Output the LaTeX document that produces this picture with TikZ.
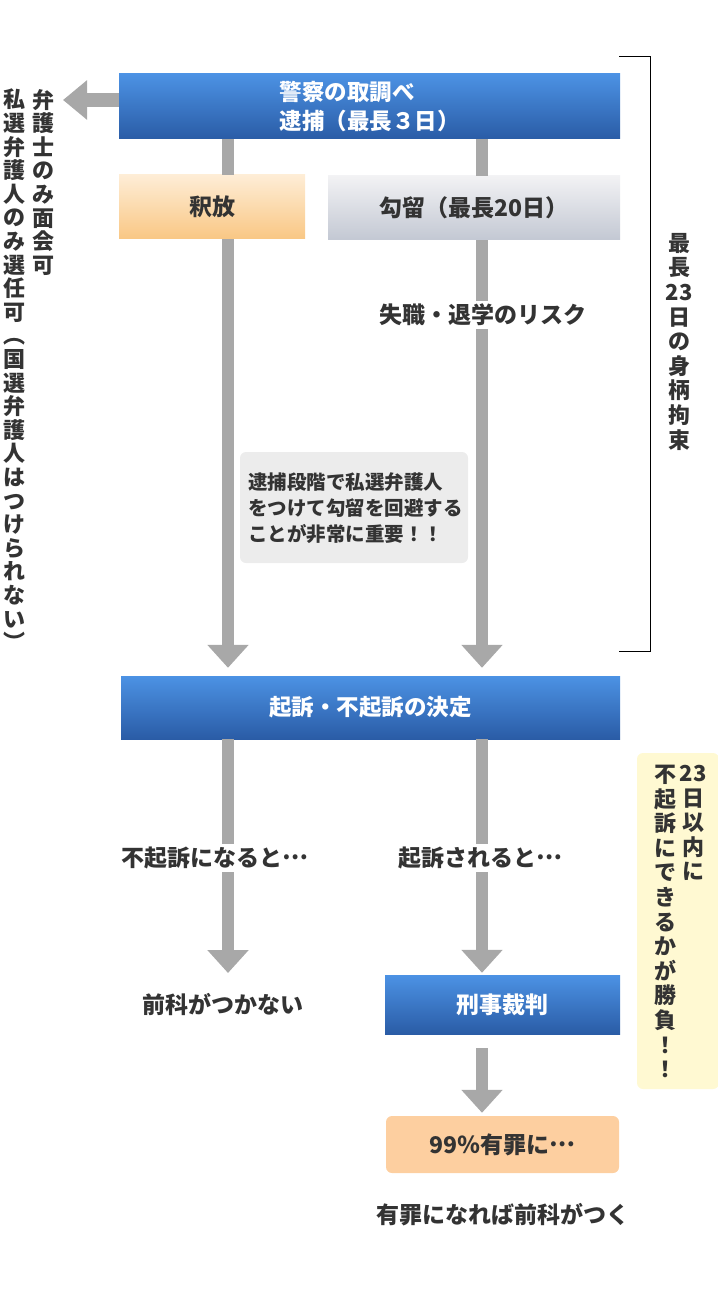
\documentclass[tikz,border=0pt]{standalone}
\usepackage{fontspec}
\setmainfont{Noto Sans CJK JP}
\usetikzlibrary{arrows.meta}
\newcommand\jdots{\raisebox{0.3em}{…}}
\definecolor{txt}{HTML}{333333}
\definecolor{blueT}{HTML}{4C92E4}
\definecolor{blueB}{HTML}{2A5CA6}
\definecolor{orangeT}{HTML}{FEEDD6}
\definecolor{orangeB}{HTML}{F9C784}
\definecolor{grayT}{HTML}{F2F2F4}
\definecolor{grayB}{HTML}{C3C8D3}
\definecolor{arrowgray}{HTML}{A8A8A8}
\definecolor{notegray}{HTML}{ECECEC}
\definecolor{peach}{HTML}{FDCFA0}
\definecolor{paleyellow}{HTML}{FFF9D2}
\tikzset{
  box/.style={inner sep=0pt, draw=none, align=center},
  bluebox/.style={box, top color=blueT, bottom color=blueB, text=white,
    font=\bfseries\fontsize{22.5}{29}\selectfont},
  orangebox/.style={box, top color=orangeT, bottom color=orangeB, text=txt,
    font=\bfseries\fontsize{23}{26}\selectfont},
  graybox/.style={box, top color=grayT, bottom color=grayB, text=txt,
    font=\bfseries\fontsize{23}{26}\selectfont},
  label/.style={inner sep=3pt, text=txt, font=\bfseries\fontsize{23}{26}\selectfont},
  cutlabel/.style={label, fill=white},
  vtext/.style={inner sep=0pt, align=center, text=txt,
    font=\bfseries\fontsize{22}{23.6}\selectfont},
  vtextwide/.style={vtext, font=\bfseries\fontsize{22}{24.6}\selectfont},
  gline/.style={draw=arrowgray, line width=12pt},
  garrow/.style={gline, -{Triangle[width=40pt,length=23pt]}},
}
\begin{document}
\begin{tikzpicture}[x=1pt,y=-1pt]
\useasboundingbox (0,0) rectangle (717,1313);

% boxes
\node[bluebox, minimum width=501pt, minimum height=65pt, align=left] (police) at (369.5,106.5) {警察の取調べ\\逮捕（最長３日）};
\node[orangebox, minimum width=186pt, minimum height=64pt] (shaku) at (212,207) {釈放};
\node[graybox, minimum width=292pt, minimum height=64pt] (koryu) at (474,208) {勾留（最長20日）};
\node[box, fill=notegray, rounded corners=6pt, minimum width=228pt, minimum height=111pt] (note) at (354,507.5) {};
\node[inner sep=0pt, anchor=west, align=left, text=txt, font=\bfseries\fontsize{19.5}{26}\selectfont] (notetext) at (248,508)
  {逮捕段階で私選弁護人\\をつけて勾留を回避する\\ことが非常に重要！！};
\node[bluebox, minimum width=499pt, minimum height=63pt] (decide) at (370.5,707.5) {起訴・不起訴の決定};
\node[bluebox, minimum width=235pt, minimum height=59pt, font=\bfseries\fontsize{23}{26}\selectfont] (trial) at (502.5,1004.5) {刑事裁判};
\node[box, fill=peach, rounded corners=6pt, minimum width=233pt, minimum height=57pt, text=txt, font=\bfseries\fontsize{23}{26}\selectfont] (guilty) at (502.5,1144.5) {99％有罪に\jdots};
\node[box, fill=paleyellow, rounded corners=6pt, minimum width=82pt, minimum height=336pt] (yellow) at (678,921) {};

% coordinates for the line columns
\coordinate (L) at (228,0);
\coordinate (R) at (482,0);
\coordinate (Ltip) at (228,973);
\coordinate (leftend) at (63,100);

% connectors
\draw[garrow, -{Triangle[width=38pt,length=24pt]}, line width=14pt] (police.west |- leftend) -- (leftend);
\draw[gline] (police.south -| L) -- (shaku.north -| L);
\draw[gline] (police.south -| R) -- (koryu.north -| R);
\draw[garrow, shorten >=8pt] (shaku.south -| L) -- (decide.north -| L);
\draw[garrow, shorten >=8pt] (koryu.south -| R) -- (decide.north -| R);
\draw[garrow] (decide.south -| L) -- (Ltip);
\draw[garrow, shorten >=2pt] (decide.south -| R) -- (trial.north -| R);
\draw[garrow, shorten <=14pt, shorten >=3pt] (trial.south -| R) -- (guilty.north -| R);

% labels over lines
\node[cutlabel] (risk) at (483,315) {失職・退学のリスク};
\node[cutlabel] (fukiso) at (215,858) {不起訴になると\jdots};
\node[cutlabel] (kiso) at (480,858) {起訴されると\jdots};
\node[label] (nozenka) at (223,1004) {前科がつかない};
\node[label] (zenka) at (503,1215) {有罪になれば前科がつく};

% bracket
\coordinate (bt) at (619,57);
\coordinate (bb) at (619,651);
\draw[black, line width=1pt] (bt) -- ++(31,0) |- (bb);

% vertical texts
\node[vtextwide, anchor=north] (kousoku) at (679,233) {最\\長\\23\\日\\の\\身\\柄\\拘\\束};
\node[vtext, anchor=north] (menkai) at (43,89) {弁\\護\\士\\の\\み\\面\\会\\可};
\node[vtext, anchor=north] (senin) at (14,89) {私\\選\\弁\\護\\人\\の\\み\\選\\任\\可\\︵\\国\\選\\弁\\護\\人\\は\\つ\\け\\ら\\れ\\な\\い\\︶};
\node[vtextwide, anchor=north] (y1) at (693,765) {23\\日\\以\\内\\に};
\node[vtextwide, anchor=north] (y2) at (665,765) {不\\起\\訴\\に\\で\\き\\る\\か\\が\\勝\\負\\！\\！};
\end{tikzpicture}
\end{document}
